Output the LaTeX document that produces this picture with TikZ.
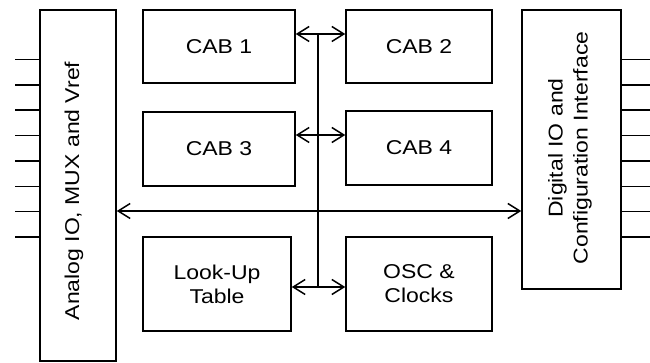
\documentclass[tikz,border=0pt]{standalone}
\usepackage{fontspec}
\setmainfont{Liberation Sans}[FakeStretch=1.15]
\usetikzlibrary{arrows.meta}
\begin{document}
\begin{tikzpicture}[x=1pt,y=-1pt,line width=1.5pt,
  box/.style={draw, rectangle, inner sep=0pt, align=center, font=\fontsize{20}{24}\selectfont},
  lbl/.style={inner sep=0pt, align=center, rotate=90, font=\fontsize{20}{25}\selectfont},
  bus/.style={{Straight Barb[length=12pt,width=15pt]}-{Straight Barb[length=12pt,width=15pt]}}]
\useasboundingbox (0,0) rectangle (650,363);
% big side blocks
\node[box, minimum width=76pt, minimum height=351pt] (left) at (78,185.5) {};
\node[lbl] (ltext) at (74,191) {Analog IO, MUX and Vref};
\node[box, minimum width=99pt, minimum height=279pt] (right) at (571.5,149.5) {};
\node[lbl] (rtext) at (570,148) {Digital IO and\\Configuration Interface};
% inner blocks
\node[box, minimum width=152pt, minimum height=73pt] (cab1) at (219,46.5) {CAB 1};
\node[box, minimum width=146pt, minimum height=73pt] (cab2) at (419,46.5) {CAB 2};
\node[box, minimum width=152pt, minimum height=74pt] (cab3) at (219,149) {CAB 3};
\node[box, minimum width=146pt, minimum height=74pt] (cab4) at (419,148) {CAB 4};
\node[box, minimum width=148pt, minimum height=94pt] (lut) at (217,284) {Look-Up\\Table};
\node[box, minimum width=146pt, minimum height=94pt] (osc) at (419,284) {OSC \&\\Clocks};
% bus
\coordinate (r1) at (318,34);
\coordinate (r2) at (318,135);
\coordinate (r3) at (318,211);
\coordinate (r4) at (318,287);
\draw (r1) -- (r4);
\draw[bus] (cab1.east |- r1) -- (cab2.west |- r1);
\draw[bus] (cab3.east |- r2) -- (cab4.west |- r2);
\draw[bus] (left.east |- r3) -- (right.west |- r3);
\draw[bus] (lut.east |- r4) -- (osc.west |- r4);
% pins
\foreach \i/\y in {1/59.5,2/84.9,3/110.2,4/135.6,5/160.9,6/186.3,7/211.6,8/237}{
  \coordinate (lp\i) at (15,\y);
  \coordinate (rp\i) at (650,\y);
  \draw (left.west |- lp\i) -- (lp\i);
  \draw (right.east |- rp\i) -- (rp\i);
}
\end{tikzpicture}
\end{document}
